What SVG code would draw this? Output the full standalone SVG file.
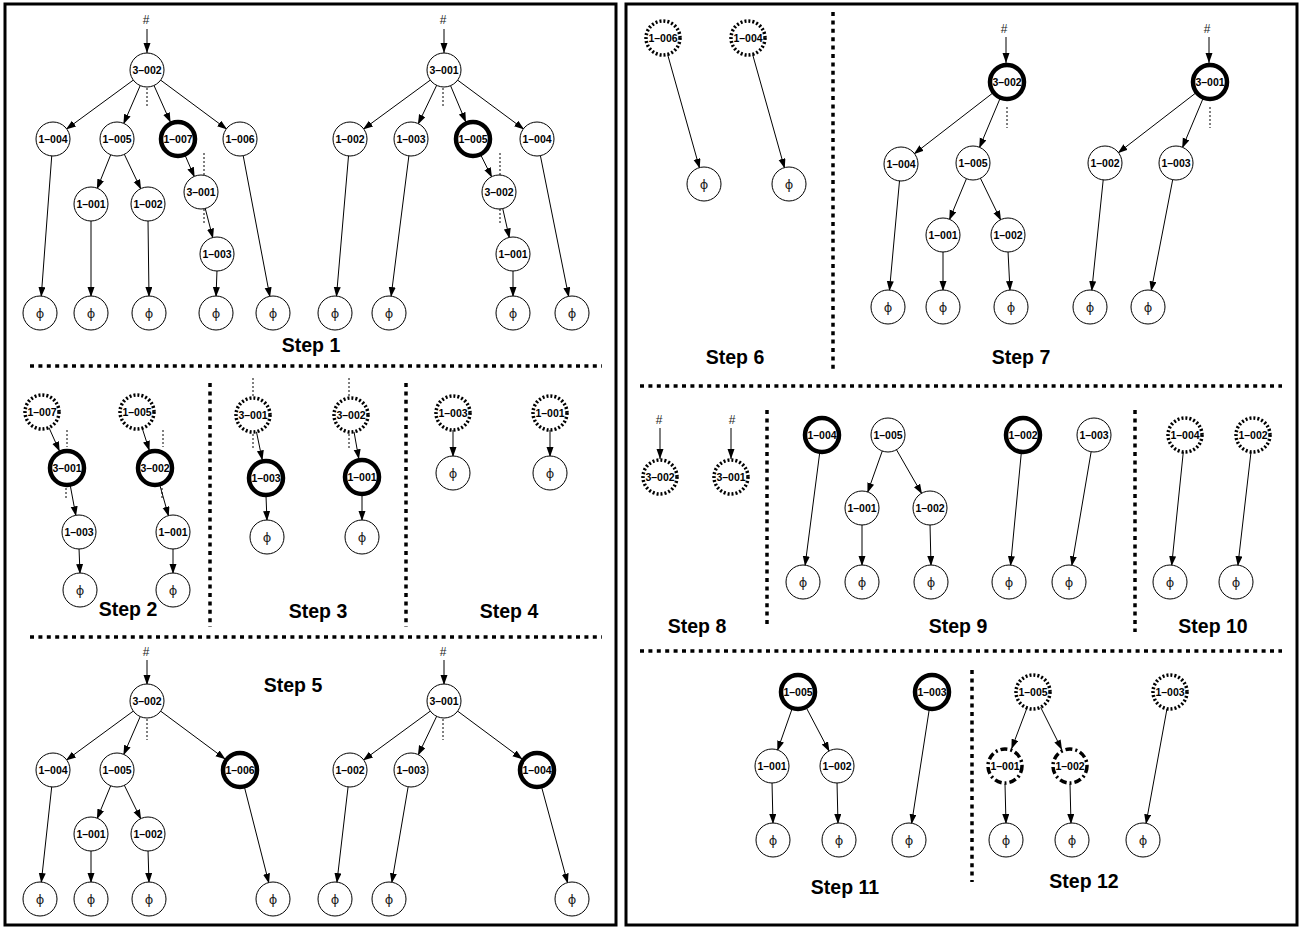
<svg xmlns="http://www.w3.org/2000/svg" width="1302" height="930" viewBox="0 0 1302 930">
<style>
.bg{fill:#fff}
.pan{fill:none;stroke:#000;stroke-width:3}
circle{fill:#fff;stroke:#000;stroke-width:1}
.t circle{stroke-width:4.5}
.d circle{stroke-width:3.5;stroke-dasharray:2 2}
.dd circle{stroke-width:3.5;stroke-dasharray:7 3 2 3}
text{font-family:"Liberation Sans",Arial,sans-serif;text-anchor:middle}
.l{font-size:10.5px;font-weight:bold}
.p{font-size:13px;fill:#222;font-family:"DejaVu Sans","Liberation Sans",sans-serif}
.h{font-size:12px;fill:#222}
.s{font-size:19.5px;font-weight:bold}
.e line{stroke:#000;stroke-width:1;marker-end:url(#ah)}
.dot line{stroke:#000;stroke-width:1;stroke-dasharray:2 2}
.sep line{stroke:#000;stroke-width:3.5;stroke-dasharray:4 4.4}
</style>
<defs>
<marker id="ah" markerUnits="userSpaceOnUse" markerWidth="10" markerHeight="8" refX="10" refY="3.5" orient="auto">
<path d="M0,0 L10,3.5 L0,7 z" fill="#000"/>
</marker>
</defs>
<rect class="bg" x="0" y="0" width="1302" height="930"/>
<rect class="pan" x="5" y="4" width="611" height="921"/>
<rect class="pan" x="626" y="4" width="671" height="921"/>

<g id="separators" class="sep">
<line x1="30" y1="366" x2="602" y2="366"/>
<line x1="30" y1="637" x2="602" y2="637"/>
<line x1="210" y1="383" x2="210" y2="627"/>
<line x1="406" y1="383" x2="406" y2="627"/>
<line x1="640" y1="386" x2="1282" y2="386"/>
<line x1="640" y1="651" x2="1282" y2="651"/>
<line x1="833" y1="12" x2="833" y2="370"/>
<line x1="767" y1="410" x2="767" y2="627"/>
<line x1="1135" y1="410" x2="1135" y2="632"/>
<line x1="972" y1="670" x2="972" y2="882"/>
</g>

<g id="labels">
<text class="s" x="311" y="352">Step 1</text>
<text class="s" x="128" y="616">Step 2</text>
<text class="s" x="318" y="618">Step 3</text>
<text class="s" x="509" y="618">Step 4</text>
<text class="s" x="293" y="692">Step 5</text>
<text class="s" x="735" y="364">Step 6</text>
<text class="s" x="1021" y="364">Step 7</text>
<text class="s" x="697" y="633">Step 8</text>
<text class="s" x="958" y="633">Step 9</text>
<text class="s" x="1213" y="633">Step 10</text>
<text class="s" x="845" y="894">Step 11</text>
<text class="s" x="1084" y="888">Step 12</text>
<text class="h" x="146" y="24">#</text>
<text class="h" x="443" y="24">#</text>
<text class="h" x="146" y="656">#</text>
<text class="h" x="443" y="656">#</text>
<text class="h" x="1004" y="33">#</text>
<text class="h" x="1207" y="33">#</text>
<text class="h" x="659" y="424">#</text>
<text class="h" x="732" y="424">#</text>
</g>

<g id="connectors">
<g class="dot">
<line x1="147" y1="88" x2="147" y2="108"/>
<line x1="204" y1="153" x2="204" y2="175"/>
<line x1="204" y1="209" x2="204" y2="225"/>
<line x1="443" y1="88" x2="443" y2="108"/>
<line x1="500" y1="153" x2="500" y2="175"/>
<line x1="500" y1="209" x2="500" y2="225"/>
<line x1="67" y1="430" x2="67" y2="447"/>
<line x1="66" y1="488" x2="66" y2="500"/>
<line x1="163" y1="430" x2="163" y2="447"/>
<line x1="162" y1="488" x2="162" y2="500"/>
<line x1="253" y1="378" x2="253" y2="397"/>
<line x1="253" y1="434" x2="253" y2="450"/>
<line x1="349" y1="378" x2="349" y2="397"/>
<line x1="349" y1="434" x2="349" y2="448"/>
<line x1="147" y1="719" x2="147" y2="740"/>
<line x1="443" y1="719" x2="443" y2="740"/>
<line x1="1007" y1="107" x2="1007" y2="128"/>
<line x1="1210" y1="107" x2="1210" y2="128"/>
</g>
<g class="e">
<!-- step 1 left -->
<line x1="147" y1="29" x2="147" y2="53"/>
<line x1="134.1" y1="79.5" x2="65.9" y2="129.5"/>
<line x1="140.6" y1="84.7" x2="123.4" y2="124.3"/>
<line x1="153.6" y1="84.6" x2="170.6" y2="122.6"/>
<line x1="159.8" y1="79.5" x2="227.2" y2="129.5"/>
<line x1="111.1" y1="153.8" x2="96.9" y2="189.2"/>
<line x1="123.9" y1="153.4" x2="141.1" y2="189.6"/>
<line x1="185.2" y1="155.5" x2="194.6" y2="177.3"/>
<line x1="205" y1="207.5" x2="213" y2="238.5"/>
<line x1="51.8" y1="155" x2="41.2" y2="297"/>
<line x1="91" y1="220" x2="91" y2="297"/>
<line x1="148" y1="220" x2="149" y2="297"/>
<line x1="217" y1="270" x2="216" y2="297"/>
<line x1="243" y1="154.7" x2="270" y2="297.3"/>
<!-- step 1 right -->
<line x1="444" y1="29" x2="444" y2="53"/>
<line x1="431.1" y1="79.5" x2="362.9" y2="129.5"/>
<line x1="437.1" y1="84.4" x2="417.9" y2="124.6"/>
<line x1="450.2" y1="84.8" x2="466" y2="122.4"/>
<line x1="456.8" y1="79.5" x2="524.2" y2="129.5"/>
<line x1="480.9" y1="155.2" x2="492" y2="177.6"/>
<line x1="502.5" y1="207.6" x2="509.5" y2="238.4"/>
<line x1="348.6" y1="155" x2="336.4" y2="297"/>
<line x1="409" y1="154.9" x2="391" y2="297.1"/>
<line x1="513" y1="270" x2="513" y2="297"/>
<line x1="540.2" y1="154.7" x2="568.8" y2="297.3"/>
<!-- step 2 -->
<line x1="48.9" y1="427.5" x2="59.7" y2="451.6"/>
<line x1="70.3" y1="485.7" x2="76" y2="516.3"/>
<line x1="79" y1="548" x2="80" y2="574"/>
<line x1="142.2" y1="428.2" x2="149.5" y2="450.9"/>
<line x1="159.9" y1="485.3" x2="168.7" y2="516.6"/>
<line x1="173" y1="548" x2="173" y2="574"/>
<!-- step 3 -->
<line x1="256.4" y1="431.6" x2="262.4" y2="460.4"/>
<line x1="266" y1="496" x2="267" y2="521"/>
<line x1="354" y1="431.7" x2="358.9" y2="459.3"/>
<line x1="362" y1="495" x2="362" y2="521"/>
<!-- step 4 -->
<line x1="453" y1="430" x2="453" y2="457"/>
<line x1="550" y1="430" x2="550" y2="457"/>
<!-- step 5 left -->
<line x1="147" y1="660" x2="147" y2="685"/>
<line x1="134.1" y1="710.5" x2="65.9" y2="760.5"/>
<line x1="140.6" y1="715.7" x2="123.4" y2="755.3"/>
<line x1="159.8" y1="710.5" x2="225.5" y2="759.3"/>
<line x1="111.1" y1="784.8" x2="96.9" y2="819.2"/>
<line x1="123.9" y1="784.4" x2="141.1" y2="819.6"/>
<line x1="51.8" y1="786" x2="41.2" y2="883"/>
<line x1="91" y1="850" x2="91" y2="883"/>
<line x1="148" y1="850" x2="149" y2="883"/>
<line x1="244.5" y1="787.4" x2="269" y2="883.5"/>
<!-- step 5 right -->
<line x1="444" y1="660" x2="444" y2="685"/>
<line x1="431.1" y1="710.5" x2="362.9" y2="760.5"/>
<line x1="437.1" y1="715.4" x2="417.9" y2="755.6"/>
<line x1="456.8" y1="710.5" x2="522.5" y2="759.3"/>
<line x1="348.2" y1="785.9" x2="336.8" y2="883.1"/>
<line x1="408.3" y1="785.8" x2="391.7" y2="883.2"/>
<line x1="541.7" y1="787.4" x2="567.8" y2="883.6"/>
<!-- step 6 -->
<line x1="667.6" y1="54.4" x2="699.7" y2="168.6"/>
<line x1="752.6" y1="54.4" x2="784.7" y2="168.6"/>
<!-- step 7 -->
<line x1="1006" y1="37" x2="1006" y2="63"/>
<line x1="992.8" y1="93" x2="913.7" y2="154.2"/>
<line x1="1000" y1="98.6" x2="979.2" y2="148.2"/>
<line x1="966.8" y1="177.8" x2="949.2" y2="220.2"/>
<line x1="980" y1="177.4" x2="1001" y2="220.6"/>
<line x1="899.6" y1="179.9" x2="889.4" y2="291.1"/>
<line x1="943" y1="251" x2="943" y2="291"/>
<line x1="1008" y1="251" x2="1010" y2="291"/>
<line x1="1209" y1="37" x2="1209" y2="63"/>
<line x1="1195.7" y1="93" x2="1117.7" y2="153.2"/>
<line x1="1203" y1="98.6" x2="1182.2" y2="148.2"/>
<line x1="1103.3" y1="178.9" x2="1091.7" y2="291.1"/>
<line x1="1172.9" y1="178.7" x2="1151.1" y2="291.3"/>
<!-- step 8 -->
<line x1="660" y1="428" x2="660" y2="459"/>
<line x1="731" y1="428" x2="731" y2="459"/>
<!-- step 9 -->
<line x1="819.7" y1="452.9" x2="805" y2="566.1"/>
<line x1="882.6" y1="450.1" x2="867.4" y2="492.9"/>
<line x1="896" y1="448.9" x2="922" y2="494.1"/>
<line x1="862" y1="524" x2="862" y2="566"/>
<line x1="930" y1="524" x2="931" y2="566"/>
<line x1="1021.3" y1="452.9" x2="1010.5" y2="566.1"/>
<line x1="1091.3" y1="450.8" x2="1071.7" y2="566.2"/>
<!-- step 10 -->
<line x1="1183.3" y1="451.9" x2="1171.6" y2="566.1"/>
<line x1="1251" y1="451.9" x2="1237.8" y2="566.1"/>
<!-- step 11 -->
<line x1="792" y1="709" x2="777.3" y2="750.9"/>
<line x1="806.4" y1="707.9" x2="829.5" y2="751.8"/>
<line x1="772" y1="782" x2="773" y2="824"/>
<line x1="837" y1="782" x2="838" y2="824"/>
<line x1="929.2" y1="709.8" x2="911.5" y2="824.2"/>
<!-- step 12 -->
<line x1="1027" y1="707.9" x2="1011.4" y2="749.2"/>
<line x1="1040.6" y1="707.2" x2="1062" y2="749.9"/>
<line x1="1005" y1="784" x2="1006" y2="824"/>
<line x1="1070" y1="784" x2="1071" y2="824"/>
<line x1="1167" y1="708.7" x2="1145.9" y2="824.3"/>
</g>
</g>

<!-- Step 1 left -->
<g id="s1a-3002"><circle cx="147" cy="70" r="17"/><text class="l" x="147" y="73.7">3–002</text></g>
<g id="s1a-1004"><circle cx="53" cy="139" r="17"/><text class="l" x="53" y="142.7">1–004</text></g>
<g id="s1a-1005"><circle cx="117" cy="139" r="17"/><text class="l" x="117" y="142.7">1–005</text></g>
<g id="s1a-1007" class="t"><circle cx="178" cy="139" r="17"/><text class="l" x="178" y="142.7">1–007</text></g>
<g id="s1a-1006"><circle cx="240" cy="139" r="17"/><text class="l" x="240" y="142.7">1–006</text></g>
<g id="s1a-1001"><circle cx="91" cy="204" r="17"/><text class="l" x="91" y="207.7">1–001</text></g>
<g id="s1a-1002"><circle cx="148" cy="204" r="17"/><text class="l" x="148" y="207.7">1–002</text></g>
<g id="s1a-3001"><circle cx="201" cy="192" r="17"/><text class="l" x="201" y="195.7">3–001</text></g>
<g id="s1a-1003"><circle cx="217" cy="254" r="17"/><text class="l" x="217" y="257.7">1–003</text></g>
<g id="s1a-p1"><circle cx="40" cy="313" r="17"/><text class="p" x="40" y="317.5">ϕ</text></g>
<g id="s1a-p2"><circle cx="91" cy="313" r="17"/><text class="p" x="91" y="317.5">ϕ</text></g>
<g id="s1a-p3"><circle cx="149" cy="313" r="17"/><text class="p" x="149" y="317.5">ϕ</text></g>
<g id="s1a-p4"><circle cx="216" cy="313" r="17"/><text class="p" x="216" y="317.5">ϕ</text></g>
<g id="s1a-p5"><circle cx="273" cy="313" r="17"/><text class="p" x="273" y="317.5">ϕ</text></g>

<!-- Step 1 right -->
<g id="s1b-3001"><circle cx="444" cy="70" r="17"/><text class="l" x="444" y="73.7">3–001</text></g>
<g id="s1b-1002"><circle cx="350" cy="139" r="17"/><text class="l" x="350" y="142.7">1–002</text></g>
<g id="s1b-1003"><circle cx="411" cy="139" r="17"/><text class="l" x="411" y="142.7">1–003</text></g>
<g id="s1b-1005" class="t"><circle cx="473" cy="139" r="17"/><text class="l" x="473" y="142.7">1–005</text></g>
<g id="s1b-1004"><circle cx="537" cy="139" r="17"/><text class="l" x="537" y="142.7">1–004</text></g>
<g id="s1b-3002"><circle cx="499" cy="192" r="17"/><text class="l" x="499" y="195.7">3–002</text></g>
<g id="s1b-1001"><circle cx="513" cy="254" r="17"/><text class="l" x="513" y="257.7">1–001</text></g>
<g id="s1b-p1"><circle cx="335" cy="313" r="17"/><text class="p" x="335" y="317.5">ϕ</text></g>
<g id="s1b-p2"><circle cx="389" cy="313" r="17"/><text class="p" x="389" y="317.5">ϕ</text></g>
<g id="s1b-p3"><circle cx="513" cy="313" r="17"/><text class="p" x="513" y="317.5">ϕ</text></g>
<g id="s1b-p4"><circle cx="572" cy="313" r="17"/><text class="p" x="572" y="317.5">ϕ</text></g>

<!-- Step 2 -->
<g id="s2-1007" class="d"><circle cx="42" cy="412" r="17"/><text class="l" x="42" y="415.7">1–007</text></g>
<g id="s2-3001" class="t"><circle cx="67" cy="468" r="17"/><text class="l" x="67" y="471.7">3–001</text></g>
<g id="s2-1003"><circle cx="79" cy="532" r="17"/><text class="l" x="79" y="535.7">1–003</text></g>
<g id="s2-p1"><circle cx="80" cy="590" r="17"/><text class="p" x="80" y="594.5">ϕ</text></g>
<g id="s2-1005" class="d"><circle cx="137" cy="412" r="17"/><text class="l" x="137" y="415.7">1–005</text></g>
<g id="s2-3002" class="t"><circle cx="155" cy="468" r="17"/><text class="l" x="155" y="471.7">3–002</text></g>
<g id="s2-1001"><circle cx="173" cy="532" r="17"/><text class="l" x="173" y="535.7">1–001</text></g>
<g id="s2-p2"><circle cx="173" cy="590" r="17"/><text class="p" x="173" y="594.5">ϕ</text></g>

<!-- Step 3 -->
<g id="s3-3001" class="d"><circle cx="253" cy="415" r="17"/><text class="l" x="253" y="418.7">3–001</text></g>
<g id="s3-1003" class="t"><circle cx="266" cy="478" r="17"/><text class="l" x="266" y="481.7">1–003</text></g>
<g id="s3-p1"><circle cx="267" cy="537" r="17"/><text class="p" x="267" y="541.5">ϕ</text></g>
<g id="s3-3002" class="d"><circle cx="351" cy="415" r="17"/><text class="l" x="351" y="418.7">3–002</text></g>
<g id="s3-1001" class="t"><circle cx="362" cy="477" r="17"/><text class="l" x="362" y="480.7">1–001</text></g>
<g id="s3-p2"><circle cx="362" cy="537" r="17"/><text class="p" x="362" y="541.5">ϕ</text></g>

<!-- Step 4 -->
<g id="s4-1003" class="d"><circle cx="453" cy="413" r="17"/><text class="l" x="453" y="416.7">1–003</text></g>
<g id="s4-p1"><circle cx="453" cy="473" r="17"/><text class="p" x="453" y="477.5">ϕ</text></g>
<g id="s4-1001" class="d"><circle cx="550" cy="413" r="17"/><text class="l" x="550" y="416.7">1–001</text></g>
<g id="s4-p2"><circle cx="550" cy="473" r="17"/><text class="p" x="550" y="477.5">ϕ</text></g>

<!-- Step 5 left -->
<g id="s5a-3002"><circle cx="147" cy="701" r="17"/><text class="l" x="147" y="704.7">3–002</text></g>
<g id="s5a-1004"><circle cx="53" cy="770" r="17"/><text class="l" x="53" y="773.7">1–004</text></g>
<g id="s5a-1005"><circle cx="117" cy="770" r="17"/><text class="l" x="117" y="773.7">1–005</text></g>
<g id="s5a-1006" class="t"><circle cx="240" cy="770" r="17"/><text class="l" x="240" y="773.7">1–006</text></g>
<g id="s5a-1001"><circle cx="91" cy="834" r="17"/><text class="l" x="91" y="837.7">1–001</text></g>
<g id="s5a-1002"><circle cx="148" cy="834" r="17"/><text class="l" x="148" y="837.7">1–002</text></g>
<g id="s5a-p1"><circle cx="40" cy="899" r="17"/><text class="p" x="40" y="903.5">ϕ</text></g>
<g id="s5a-p2"><circle cx="91" cy="899" r="17"/><text class="p" x="91" y="903.5">ϕ</text></g>
<g id="s5a-p3"><circle cx="149" cy="899" r="17"/><text class="p" x="149" y="903.5">ϕ</text></g>
<g id="s5a-p4"><circle cx="273" cy="899" r="17"/><text class="p" x="273" y="903.5">ϕ</text></g>

<!-- Step 5 right -->
<g id="s5b-3001"><circle cx="444" cy="701" r="17"/><text class="l" x="444" y="704.7">3–001</text></g>
<g id="s5b-1002"><circle cx="350" cy="770" r="17"/><text class="l" x="350" y="773.7">1–002</text></g>
<g id="s5b-1003"><circle cx="411" cy="770" r="17"/><text class="l" x="411" y="773.7">1–003</text></g>
<g id="s5b-1004" class="t"><circle cx="537" cy="770" r="17"/><text class="l" x="537" y="773.7">1–004</text></g>
<g id="s5b-p1"><circle cx="335" cy="899" r="17"/><text class="p" x="335" y="903.5">ϕ</text></g>
<g id="s5b-p2"><circle cx="389" cy="899" r="17"/><text class="p" x="389" y="903.5">ϕ</text></g>
<g id="s5b-p3"><circle cx="572" cy="899" r="17"/><text class="p" x="572" y="903.5">ϕ</text></g>

<!-- Step 6 -->
<g id="s6-1006" class="d"><circle cx="663" cy="38" r="17"/><text class="l" x="663" y="41.7">1–006</text></g>
<g id="s6-1004" class="d"><circle cx="748" cy="38" r="17"/><text class="l" x="748" y="41.7">1–004</text></g>
<g id="s6-p1"><circle cx="704" cy="184" r="17"/><text class="p" x="704" y="188.5">ϕ</text></g>
<g id="s6-p2"><circle cx="789" cy="184" r="17"/><text class="p" x="789" y="188.5">ϕ</text></g>

<!-- Step 7 -->
<g id="s7-3002" class="t"><circle cx="1007" cy="82" r="17"/><text class="l" x="1007" y="85.7">3–002</text></g>
<g id="s7-1004"><circle cx="901" cy="164" r="17"/><text class="l" x="901" y="167.7">1–004</text></g>
<g id="s7-1005"><circle cx="973" cy="163" r="17"/><text class="l" x="973" y="166.7">1–005</text></g>
<g id="s7-1001"><circle cx="943" cy="235" r="17"/><text class="l" x="943" y="238.7">1–001</text></g>
<g id="s7-1002a"><circle cx="1008" cy="235" r="17"/><text class="l" x="1008" y="238.7">1–002</text></g>
<g id="s7-p1"><circle cx="888" cy="307" r="17"/><text class="p" x="888" y="311.5">ϕ</text></g>
<g id="s7-p2"><circle cx="943" cy="307" r="17"/><text class="p" x="943" y="311.5">ϕ</text></g>
<g id="s7-p3"><circle cx="1011" cy="307" r="17"/><text class="p" x="1011" y="311.5">ϕ</text></g>
<g id="s7-3001" class="t"><circle cx="1210" cy="82" r="17"/><text class="l" x="1210" y="85.7">3–001</text></g>
<g id="s7-1002b"><circle cx="1105" cy="163" r="17"/><text class="l" x="1105" y="166.7">1–002</text></g>
<g id="s7-1003"><circle cx="1176" cy="163" r="17"/><text class="l" x="1176" y="166.7">1–003</text></g>
<g id="s7-p4"><circle cx="1090" cy="307" r="17"/><text class="p" x="1090" y="311.5">ϕ</text></g>
<g id="s7-p5"><circle cx="1148" cy="307" r="17"/><text class="p" x="1148" y="311.5">ϕ</text></g>

<!-- Step 8 -->
<g id="s8-3002" class="d"><circle cx="660" cy="477" r="17"/><text class="l" x="660" y="480.7">3–002</text></g>
<g id="s8-3001" class="d"><circle cx="731" cy="477" r="17"/><text class="l" x="731" y="480.7">3–001</text></g>

<!-- Step 9 -->
<g id="s9-1004" class="t"><circle cx="822" cy="435" r="17"/><text class="l" x="822" y="438.7">1–004</text></g>
<g id="s9-1005"><circle cx="888" cy="435" r="17"/><text class="l" x="888" y="438.7">1–005</text></g>
<g id="s9-1001"><circle cx="862" cy="508" r="17"/><text class="l" x="862" y="511.7">1–001</text></g>
<g id="s9-1002a"><circle cx="930" cy="508" r="17"/><text class="l" x="930" y="511.7">1–002</text></g>
<g id="s9-p1"><circle cx="803" cy="582" r="17"/><text class="p" x="803" y="586.5">ϕ</text></g>
<g id="s9-p2"><circle cx="862" cy="582" r="17"/><text class="p" x="862" y="586.5">ϕ</text></g>
<g id="s9-p3"><circle cx="931" cy="582" r="17"/><text class="p" x="931" y="586.5">ϕ</text></g>
<g id="s9-1002b" class="t"><circle cx="1023" cy="435" r="17"/><text class="l" x="1023" y="438.7">1–002</text></g>
<g id="s9-1003"><circle cx="1094" cy="435" r="17"/><text class="l" x="1094" y="438.7">1–003</text></g>
<g id="s9-p4"><circle cx="1009" cy="582" r="17"/><text class="p" x="1009" y="586.5">ϕ</text></g>
<g id="s9-p5"><circle cx="1069" cy="582" r="17"/><text class="p" x="1069" y="586.5">ϕ</text></g>

<!-- Step 10 -->
<g id="s10-1004" class="d"><circle cx="1185" cy="435" r="17"/><text class="l" x="1185" y="438.7">1–004</text></g>
<g id="s10-1002" class="d"><circle cx="1253" cy="435" r="17"/><text class="l" x="1253" y="438.7">1–002</text></g>
<g id="s10-p1"><circle cx="1170" cy="582" r="17"/><text class="p" x="1170" y="586.5">ϕ</text></g>
<g id="s10-p2"><circle cx="1236" cy="582" r="17"/><text class="p" x="1236" y="586.5">ϕ</text></g>

<!-- Step 11 -->
<g id="s11-1005" class="t"><circle cx="798" cy="692" r="17"/><text class="l" x="798" y="695.7">1–005</text></g>
<g id="s11-1003" class="t"><circle cx="932" cy="692" r="17"/><text class="l" x="932" y="695.7">1–003</text></g>
<g id="s11-1001"><circle cx="772" cy="766" r="17"/><text class="l" x="772" y="769.7">1–001</text></g>
<g id="s11-1002"><circle cx="837" cy="766" r="17"/><text class="l" x="837" y="769.7">1–002</text></g>
<g id="s11-p1"><circle cx="773" cy="840" r="17"/><text class="p" x="773" y="844.5">ϕ</text></g>
<g id="s11-p2"><circle cx="839" cy="840" r="17"/><text class="p" x="839" y="844.5">ϕ</text></g>
<g id="s11-p3"><circle cx="909" cy="840" r="17"/><text class="p" x="909" y="844.5">ϕ</text></g>

<!-- Step 12 -->
<g id="s12-1005" class="d"><circle cx="1033" cy="692" r="17"/><text class="l" x="1033" y="695.7">1–005</text></g>
<g id="s12-1003" class="d"><circle cx="1170" cy="692" r="17"/><text class="l" x="1170" y="695.7">1–003</text></g>
<g id="s12-1001" class="dd"><circle cx="1005" cy="766" r="17"/><text class="l" x="1005" y="769.7">1–001</text></g>
<g id="s12-1002" class="dd"><circle cx="1070" cy="766" r="17"/><text class="l" x="1070" y="769.7">1–002</text></g>
<g id="s12-p1"><circle cx="1006" cy="840" r="17"/><text class="p" x="1006" y="844.5">ϕ</text></g>
<g id="s12-p2"><circle cx="1072" cy="840" r="17"/><text class="p" x="1072" y="844.5">ϕ</text></g>
<g id="s12-p3"><circle cx="1143" cy="840" r="17"/><text class="p" x="1143" y="844.5">ϕ</text></g>
</svg>
